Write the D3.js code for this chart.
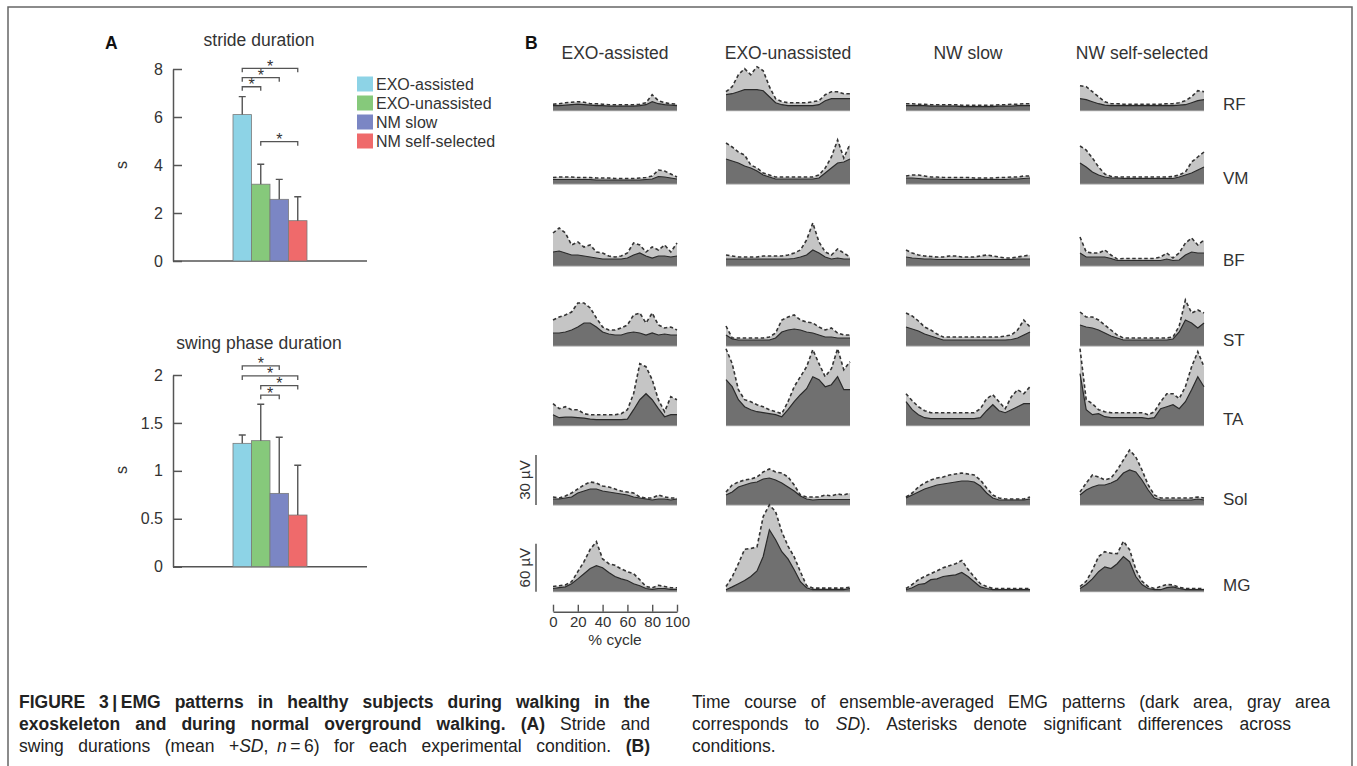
<!DOCTYPE html>
<html>
<head>
<meta charset="utf-8">
<script src="https://cdn.jsdelivr.net/npm/d3@7"></script>
<style>
  body { margin: 0; background: #fff; }
  svg { font-family: "Liberation Sans", Arial, Helvetica, sans-serif; }
</style>
</head>
<body>
<svg id="fig" width="1357" height="766"></svg>
<script>
// ---------- data ----------
const conditions = ["EXO-assisted", "EXO-unassisted", "NM slow", "NM self-selected"];
const colTitles = ["EXO-assisted", "EXO-unassisted", "NW slow", "NW self-selected"];
const barColors = ["#8dd3e6", "#86c97b", "#7b86c4", "#ef6a6b"];

const strideMean = [6.1, 3.2, 2.57, 1.68];
const strideSd = [0.75, 0.83, 0.83, 1.0];
const strideTicks = [0, 2, 4, 6, 8];
// [from, to, bracket level]
const strideSig = [[0, 1, 7.26], [0, 2, 7.64], [0, 3, 8.03], [1, 3, 4.97]];

const swingMean = [1.287, 1.315, 0.765, 0.539];
const swingSd = [0.087, 0.38, 0.585, 0.52];
const swingTicks = [0, 0.5, 1, 1.5, 2];
const swingSig = [[0, 2, 2.095], [0, 3, 1.99], [1, 3, 1.89], [1, 2, 1.79]];

const muscles = ["RF", "VM", "BF", "ST", "TA", "Sol", "MG"];
const cycle = [0, 5, 10, 15, 20, 25, 30, 35, 40, 45, 50, 55, 60, 65, 70, 75, 80, 85, 90, 95, 100];
const cycleTicks = [0, 20, 40, 60, 80, 100];

// EMG amplitude in µV, one row per condition
const rfMean = [
  [3,3,3.3,3.6,3.9,3.6,3.3,3,3,2.7,2.7,2.7,2.7,2.7,3,3.6,5.4,4.2,3.6,3.3,3],
  [9.6,10.2,11.4,12.6,12.6,12.6,12,8.4,4.8,3.6,3,3,3,3,3,3.6,6,7.2,7.2,7.2,7.2],
  [3,3,3,3,2.7,2.7,2.7,2.7,2.7,2.4,2.4,2.4,2.4,2.4,2.4,2.7,2.7,2.7,3,3,3],
  [7.2,6.6,5.4,4.2,3.3,3,3,3,3,3,3,3,3,3,3,3,3.3,3.6,4.8,6,6.6]
];
const rfSd = [
  [0.9,1.2,1.5,1.5,1.5,1.5,0.9,1.2,0.9,0.9,0.9,0.9,0.9,0.9,0.9,1.2,4.2,1.8,1.2,0.9,0.9],
  [1.8,4.2,10.2,12.6,9,13.8,12,6,2.4,1.8,1.8,1.8,1.8,1.8,2.4,2.4,3.6,4.2,4.2,3,3],
  [1.2,1.2,0.9,0.9,0.9,0.9,0.9,0.9,0.9,0.9,0.9,0.9,0.9,0.9,0.9,0.9,0.9,1.2,0.9,1.2,1.2],
  [7.8,7.8,6,4.2,2.1,1.2,1.2,0.9,0.9,0.9,0.9,0.9,0.9,0.9,1.2,1.2,1.5,2.4,3.6,6,4.8]
];
const vmMean = [
  [2.7,2.7,2.7,2.7,2.7,2.7,2.7,2.4,2.4,2.4,2.4,2.4,2.4,2.4,2.4,2.7,3,4.5,4.2,3.6,3],
  [15,13.8,12.6,10.8,9.6,7.8,5.4,4.2,3,3,3,3,3,3,3,3.6,6.6,9.6,12.6,13.2,15],
  [3.6,3.6,3.3,3,3,3,2.7,2.7,2.7,2.7,2.7,2.7,2.7,2.7,2.7,2.7,2.7,3,3,3.3,3.6],
  [12.6,10.2,7.2,5.4,4.2,3.6,3.6,3.3,3.3,3.3,3.3,3.3,3.3,3.3,3.3,3.3,4.2,5.4,6.6,8.4,10.2]
];
const vmSd = [
  [1.2,1.5,1.5,1.5,1.2,1.2,1.2,1.2,1.2,1.2,0.9,0.9,0.9,0.9,1.2,1.2,1.8,3.9,3.6,2.4,1.2],
  [9.6,8.4,6.6,6.6,1.8,1.8,1.2,1.2,1.2,1.2,1.2,1.2,1.2,1.2,1.2,1.8,3,6.6,13.8,2.4,9],
  [1.2,1.8,2.1,1.8,1.2,1.2,1.2,1.2,1.2,1.2,1.2,0.9,0.9,0.9,0.9,1.2,1.2,1.2,1.2,1.5,1.2],
  [10.2,10.2,8.4,4.8,1.8,0.9,0.6,0.9,0.9,0.9,0.9,0.9,0.9,0.9,0.9,1.2,1.2,1.8,6.6,7.8,9]
];
const bfMean = [
  [8.4,9,7.8,6.6,6.6,6,5.4,4.8,4.2,4.2,4.2,4.2,4.8,6.6,7.8,6,4.8,6,6,5.4,6],
  [4.2,4.2,4.2,4.2,4.2,4.2,4.2,4.2,4.2,4.2,4.2,4.5,5.4,6.6,9.6,7.8,5.4,4.2,4.8,4.2,4.2],
  [5.4,4.8,4.5,4.2,4.2,3.9,3.9,3.9,3.9,3.9,3.9,3.9,3.9,3.9,3.9,3.9,3.9,3.9,4.2,4.2,4.2],
  [7.8,5.4,5.4,5.4,5.4,4.5,3.3,3.3,3.3,3.3,3.3,3.3,3.3,3.3,4.2,3.3,3.6,6.6,8.4,7.8,7.8]
];
const bfSd = [
  [11.4,13.8,12,6,7.8,5.4,7.2,3.6,3.6,1.8,1.2,1.8,3,7.2,4.8,2.4,6.6,3.6,6.6,3,7.8],
  [2.4,1.8,1.2,1.2,1.2,1.2,1.8,1.8,1.8,1.8,2.4,3.3,4.2,9,16.2,6.6,3,2.4,5.4,3.6,1.2],
  [4.2,3,2.1,1.8,1.5,1.5,1.5,2.1,2.1,1.5,1.5,1.5,2.1,2.7,2.1,1.5,0.9,0.9,1.2,1.8,2.4],
  [9.6,3,2.4,2.4,4.2,2.1,0.9,1.2,1.2,1.2,1.2,1.2,1.2,2.1,3.6,1.5,4.2,7.2,8.4,4.8,7.8]
];
const stMean = [
  [7.8,7.8,8.4,9.6,11.4,13.8,13.8,11.4,8.4,7.2,6.6,6.6,7.8,8.4,7.8,6.6,7.8,6.6,7.2,6.6,6.6],
  [6.6,4.2,3.6,3.6,3.6,3.6,3.6,3.6,4.8,8.4,9.6,10.2,9.6,8.4,7.8,6.6,5.4,5.4,4.8,4.8,4.8],
  [11.4,10.2,9,7.2,6,4.8,3.6,3.6,3.6,3.6,3.6,3.6,3.6,3.6,3.6,3.6,3.6,3.9,4.8,6.6,8.4],
  [12.6,11.4,10.8,9.6,7.8,6,4.8,3.6,3.6,3.6,3.6,3.6,3.6,3.6,3.6,4.2,8.4,15.6,13.8,10.8,13.8]
];
const stSd = [
  [7.8,9.6,10.2,10.8,14.4,12,9,5.4,3,2.4,3,4.2,4.8,10.2,12,7.2,12,6,3.6,4.8,3],
  [5.4,0.6,1.2,1.2,1.2,1.2,1.2,1.8,3,7.2,7.8,8.4,6,6,6,4.8,4.2,5.4,3,1.8,1.8],
  [8.4,7.8,6,4.2,3.6,2.4,1.8,1.8,1.8,1.8,1.8,1.8,1.8,1.8,1.8,1.8,2.4,2.7,4.8,9,3],
  [7.8,6,6.6,6,4.8,3.6,1.8,1.2,1.2,1.2,1.2,1.2,1.2,1.2,1.2,1.2,3.6,12,6,10.8,6]
];
const taMean = [
  [6.6,4.8,5.1,5.1,4.8,4.5,3.9,3.6,3.6,3.6,3.6,3.6,3.9,9.6,15.6,19.2,15.6,10.2,5.4,6.6,6.6],
  [27.6,23.4,15.6,11.4,9.6,8.4,7.8,7.2,6.6,5.4,9.6,14.4,18.6,22.2,29.4,27.6,23.4,24.6,29.4,21.6,21.6],
  [14.4,9.6,6.6,4.8,4.2,4.2,4.2,4.2,4.2,4.2,4.2,4.2,4.8,9,12.6,9,7.8,9.6,11.4,13.2,13.2],
  [31.2,9.6,6.6,7.2,5.4,4.8,4.8,4.8,4.8,4.8,4.8,4.2,4.8,10.2,11.4,12.6,10.2,14.4,21.6,29.4,23.4]
];
const taSd = [
  [6.6,5.4,6.3,4.5,4.8,2.7,2.7,3,3,3,3,3.6,5.7,9.6,21.6,16.2,12,5.4,3,10.8,9],
  [18.6,13.8,6,4.2,4.8,4.2,3.6,2.4,1.8,1.8,4.8,9,10.8,13.2,16.2,9.6,6,9.6,16.8,12,16.8],
  [4.8,5.4,4.8,4.2,3.6,3.6,3.6,3.6,3.6,3.6,3.6,3.6,5.4,7.2,6,5.4,2.4,7.8,10.2,6,10.2],
  [15,6,6.6,2.4,3,3,3,3,3,3,3,2.4,3.6,4.2,7.8,6.6,6,9,13.8,15,12]
];
const solMean = [
  [3.6,3.6,4.2,4.8,7.2,8.4,9.6,9.6,8.4,7.8,7.2,6.6,6,4.8,4.2,3.6,3,3.6,3.6,3,3.6],
  [6,7.8,10.8,12,13.2,13.8,15.6,16.2,15,13.2,10.8,8.4,5.4,3.6,3,3.3,3.3,3.3,3.3,3.3,3.3],
  [4.2,6,7.8,9.6,10.8,12,12.6,13.2,13.8,14.4,14.4,13.8,11.4,7.2,4.2,3,3,3,3,3,3.6],
  [6,9,10.8,12,12,13.2,15,19.2,21,19.8,15,9,4.2,3,3,3,3,3,3,3.6,3]
];
const solSd = [
  [1.2,0.6,1.2,2.4,2.4,3.6,4.2,3.6,3,3,2.4,1.8,1.8,2.4,0.6,0.6,1.2,2.4,1.2,1.2,0.6],
  [1.8,4.2,3,3,2.4,3,4.2,5.4,4.8,6,6,3.6,0.6,1.2,1.8,1.5,2.7,2.1,3.3,2.7,3.9],
  [0.6,1.2,3,3.6,4.2,4.2,4.2,4.8,4.8,4.8,4.2,4.2,3.6,3,1.8,1.2,0.6,0.6,0.6,0.6,1.2],
  [1.8,4.2,7.2,4.8,3,3,6,7.8,12,9,6,3,1.8,1.2,1.2,1.2,1.2,1.2,1.2,1.2,1.2]
];
const mgMean = [
  [4,5,6,10,16,22.5,29,32.5,30,24,19,16,14,10,7.5,4,3,4,4,3,3],
  [2.5,6,10,14,19,26,44,77.5,65,50,41,27.5,12.5,5,2.5,2.5,2.5,2.5,2.5,2.5,4],
  [2.5,5,9,10,15,16,19,20,21,24,19,12.5,6,4,2.5,2.5,2.5,2.5,2.5,2.5,2.5],
  [4,9,16,25,31,29,35,44,37.5,19,9,4,2.5,2.5,5,6,4,2.5,2.5,2.5,2.5]
];
const mgSd = [
  [2.5,2.5,2.5,2.5,9,15,24,30,11,11,14,12.5,11,12.5,7.5,2.5,2,4,2.5,2,2],
  [4,12.5,25,39,35,30,50,31,35,25,16,16,12.5,2.5,2,2,2,2,2,2,1.5],
  [1.5,4,6,9,7.5,10,11,12.5,14,15,9,6,4,2.5,1.5,1.5,1.5,1.5,1.5,1.5,1.5],
  [2.5,4,11,19,19,19,12.5,19,15,9,4,2.5,1.5,4,4,2.5,1.5,1.5,1.5,1.5,1.5]
];

const emgMean = [rfMean, vmMean, bfMean, stMean, taMean, solMean, mgMean];
const emgSd = [rfSd, vmSd, bfSd, stSd, taSd, solSd, mgSd];

// ---------- layout ----------
const svg = d3.select("#fig");
const AXIS = "#555";
const INK = "#333";

// figure frame
svg.append("rect")
  .attr("x", 8).attr("y", 7)
  .attr("width", 1344).attr("height", 800)
  .attr("fill", "none").attr("stroke", "#666").attr("stroke-width", 1.5);

// ---------- panel A ----------
svg.append("text").attr("x", 105).attr("y", 48.5)
  .attr("font-size", 17.5).attr("font-weight", "bold").attr("fill", "#111").text("A");

const xBar = d3.scaleBand().domain(conditions).range([233, 307]);

function barPanel(cfg) {
  const g = svg.append("g");
  const y = d3.scaleLinear().domain([0, cfg.max]).range([cfg.y0, cfg.yTop]);

  g.append("text").attr("x", 259).attr("y", cfg.titleY)
    .attr("text-anchor", "middle").attr("font-size", 17.5).attr("fill", INK)
    .text(cfg.title);

  // y axis, ticks pointing inward
  const ay = g.append("g").attr("transform", "translate(173,0)")
    .call(d3.axisLeft(y).tickValues(cfg.ticks).tickFormat(d3.format("~g"))
      .tickSizeInner(-9).tickSizeOuter(0).tickPadding(10));
  ay.attr("font-family", null).attr("font-size", null);
  ay.selectAll("path, line").attr("stroke", AXIS).attr("stroke-width", 1.5);
  ay.selectAll("text").attr("font-size", 16).attr("fill", INK);

  // x axis line
  g.append("line").attr("x1", 173).attr("x2", 367)
    .attr("y1", y(0)).attr("y2", y(0)).attr("stroke", AXIS).attr("stroke-width", 1.5);

  g.append("text")
    .attr("transform", `translate(${127},${cfg.labelY}) rotate(-90)`)
    .attr("text-anchor", "middle").attr("font-size", 16).attr("fill", INK).text("s");

  // bars
  g.selectAll(".bar").data(conditions).enter().append("rect")
    .attr("x", d => xBar(d)).attr("width", xBar.bandwidth())
    .attr("y", (d, i) => y(cfg.mean[i]))
    .attr("height", (d, i) => y(0) - y(cfg.mean[i]))
    .attr("fill", (d, i) => barColors[i])
    .attr("stroke", "#7a7a7a").attr("stroke-width", 0.8);

  // error bars (mean + SD)
  const cx = d => xBar(d) + xBar.bandwidth() / 2;
  g.selectAll(".err").data(conditions).enter().append("path")
    .attr("d", (d, i) => {
      const top = y(cfg.mean[i] + cfg.sd[i]);
      return `M${cx(d)},${y(cfg.mean[i])}V${top}M${cx(d) - 3.5},${top}H${cx(d) + 3.5}`;
    })
    .attr("fill", "none").attr("stroke", "#555").attr("stroke-width", 1.4);

  // significance brackets
  cfg.sig.forEach(s => {
    const xa = cx(conditions[s[0]]), xb = cx(conditions[s[1]]), yl = y(s[2]);
    g.append("path").attr("d", `M${xa},${yl + 4}V${yl}H${xb}V${yl + 4}`)
      .attr("fill", "none").attr("stroke", "#555").attr("stroke-width", 1.3);
    g.append("text").attr("x", (xa + xb) / 2).attr("y", yl + 3.5)
      .attr("text-anchor", "middle").attr("font-size", 16).attr("fill", INK).text("*");
  });
}

barPanel({ title: "stride duration", titleY: 46, max: 8, y0: 261, yTop: 69, ticks: strideTicks,
  mean: strideMean, sd: strideSd, sig: strideSig, labelY: 165 });
barPanel({ title: "swing phase duration", titleY: 349, max: 2, y0: 566.7, yTop: 375, ticks: swingTicks,
  mean: swingMean, sd: swingSd, sig: swingSig, labelY: 470 });

// legend
const legend = svg.append("g");
conditions.forEach((c, i) => {
  const ly = 84 + i * 19;
  legend.append("rect").attr("x", 357).attr("y", ly - 7.5).attr("width", 16).attr("height", 15)
    .attr("fill", barColors[i]);
  legend.append("text").attr("x", 376).attr("y", ly + 5.5)
    .attr("font-size", 16).attr("fill", INK).text(c);
});

// ---------- panel B ----------
svg.append("text").attr("x", 525).attr("y", 48.5)
  .attr("font-size", 17.5).attr("font-weight", "bold").attr("fill", "#111").text("B");

const colX = [553, 726, 906, 1080];
const panelW = 124;
const rowBase = [110.7, 184, 266, 346, 425.7, 505, 591.7];

colTitles.forEach((t, c) => {
  svg.append("text").attr("x", colX[c] + panelW / 2).attr("y", 59)
    .attr("text-anchor", "middle").attr("font-size", 17.5).attr("fill", INK).text(t);
});

const yScales = muscles.map((m, r) => m === "MG"
  ? d3.scaleLinear().domain([0, 60]).range([rowBase[r], rowBase[r] - 48])
  : d3.scaleLinear().domain([0, 30]).range([rowBase[r], rowBase[r] - 50]));

const gB = svg.append("g");
muscles.forEach((m, r) => {
  const y = yScales[r];
  colX.forEach((x0, c) => {
    const x = d3.scaleLinear().domain([0, 100]).range([x0, x0 + panelW]);
    const mean = emgMean[r][c];
    const upper = mean.map((v, i) => v + emgSd[r][c][i]);
    const area = d3.area().x((d, i) => x(cycle[i])).y0(y(0)).y1(d => y(d));
    const line = d3.line().x((d, i) => x(cycle[i])).y(d => y(d));

    gB.append("path").datum(upper).attr("d", area).attr("fill", "#c5c5c5");
    gB.append("path").datum(mean).attr("d", area).attr("fill", "#707070");
    gB.append("path").datum(upper).attr("d", line)
      .attr("fill", "none").attr("stroke", "#333").attr("stroke-width", 1.6)
      .attr("stroke-dasharray", "3.5,2.5");
    gB.append("path").datum(mean).attr("d", line)
      .attr("fill", "none").attr("stroke", "#2a2a2a").attr("stroke-width", 1.2);
    gB.append("line").attr("x1", x0).attr("x2", x0 + panelW)
      .attr("y1", y(0)).attr("y2", y(0)).attr("stroke", "#9a9a9a").attr("stroke-width", 1);
  });
  gB.append("text").attr("x", 1223).attr("y", rowBase[r] - 0.5)
    .attr("font-size", 17).attr("fill", INK).text(m);
});

// amplitude scale bars
[[5, 30, "30 µV"], [6, 60, "60 µV"]].forEach(([r, v, lab]) => {
  const y = yScales[r];
  gB.append("line").attr("x1", 536).attr("x2", 536).attr("y1", y(0)).attr("y2", y(v))
    .attr("stroke", AXIS).attr("stroke-width", 1.5);
  gB.append("text")
    .attr("transform", `translate(${530},${(y(0) + y(v)) / 2}) rotate(-90)`)
    .attr("text-anchor", "middle").attr("font-size", 15).attr("fill", INK).text(lab);
});

// % cycle axis under the first column
const xCycle = d3.scaleLinear().domain([0, 100]).range([colX[0], colX[0] + panelW]);
const ax = gB.append("g").attr("transform", "translate(0,611.7)")
  .call(d3.axisBottom(xCycle).tickValues(cycleTicks).tickSizeInner(-7).tickSizeOuter(0).tickPadding(5));
ax.attr("font-family", null).attr("font-size", null);
ax.selectAll("path, line").attr("stroke", AXIS).attr("stroke-width", 1.4);
ax.selectAll("text").attr("font-size", 15).attr("fill", INK);
gB.append("text").attr("x", colX[0] + panelW / 2).attr("y", 645)
  .attr("text-anchor", "middle").attr("font-size", 15.5).attr("fill", INK).text("% cycle");

// ---------- caption ----------
const cap = svg.append("g").attr("font-size", 17.5).attr("fill", "#222");

// justified line: spread the extra width over the ordinary spaces
function capLine(x, y, parts, width) {
  const t = cap.append("text").attr("x", x).attr("y", y);
  parts.forEach(p => {
    const s = t.append("tspan").text(p[0]);
    if (p[1] === "b") s.attr("font-weight", "bold");
    if (p[1] === "i") s.attr("font-style", "italic");
  });
  if (width) {
    const spaces = parts.map(p => p[0]).join("").split(" ").length - 1;
    const extra = (width - t.node().getComputedTextLength()) / spaces;
    t.attr("word-spacing", extra);
  }
}

capLine(19, 708, [["FIGURE 3\u2009|\u2009EMG patterns in healthy subjects during walking in the", "b"]], 631);
capLine(19, 730, [["exoskeleton and during normal overground walking.", "b"], [" "], ["(A)", "b"], [" Stride and"]], 631);
capLine(19, 752, [["swing durations (mean +"], ["SD", "i"], [",\u2002"], ["n", "i"], ["\u2009=\u20096) for each experimental condition. "], ["(B)", "b"]], 631);
capLine(692, 708, [["Time course of ensemble-averaged EMG patterns (dark area, gray area"]], 638);
capLine(692, 730, [["corresponds to "], ["SD", "i"], ["). Asterisks denote significant differences across"]], 599);
capLine(692, 752, [["conditions."]]);
</script>
</body>
</html>
